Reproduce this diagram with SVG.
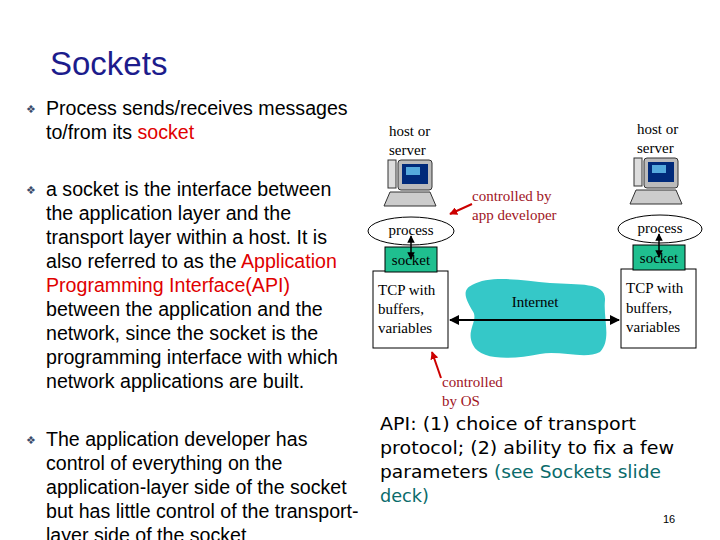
<svg xmlns="http://www.w3.org/2000/svg" width="720" height="540" viewBox="0 0 720 540">
<style>
.b{font-family:"Liberation Sans",Arial,sans-serif;font-size:19.6px;fill:#000}
.s{font-family:"Liberation Serif","Times New Roman",serif;font-size:15px;fill:#000}
.r{font-family:"Liberation Serif","Times New Roman",serif;font-size:15px;fill:#a0141e}
.m{font-family:"DejaVu Sans",sans-serif;font-size:17px;fill:#000}
.red{fill:#e00000}
.bl{fill:#0a6b6b}
.bul{font-family:"DejaVu Sans",sans-serif;font-size:11px;fill:#3a4a6a}
</style>
<defs>
<marker id="a" viewBox="0 0 10 10" refX="9" refY="5" markerWidth="5" markerHeight="5" orient="auto-start-reverse"><path d="M0,0L10,5L0,10z" fill="#000"/></marker>
<marker id="ar" viewBox="0 0 10 10" refX="9" refY="5" markerWidth="4" markerHeight="4" orient="auto"><path d="M0,0L10,5L0,10z" fill="#c00"/></marker>
<g id="pc"><rect x="0" y="0" width="8" height="28" fill="#ddd" stroke="#333"/><rect x="10" y="0" width="34" height="30" rx="3" fill="#bbb" stroke="#333"/><rect x="14" y="4" width="26" height="20" fill="#002a7a"/><rect x="18" y="7" width="14" height="8" fill="#5ad"/><path d="M2,32L42,32L48,46L-4,46z" fill="#ccc" stroke="#333"/></g>
</defs>
<text x="50" y="75" font-family="Liberation Sans,Arial,sans-serif" font-size="33" fill="#1c1c8c">Sockets</text>
<g id="text">
<text x="26" y="113" class="bul">❖</text>
<text class="b"><tspan x="46" y="115">Process sends/receives messages</tspan><tspan x="46" y="139">to/from its <tspan class="red">socket</tspan></tspan></text>
<text x="26" y="194" class="bul">❖</text>
<text class="b"><tspan x="46" y="196">a socket is the interface between</tspan><tspan x="46" y="220">the application layer and the</tspan><tspan x="46" y="244">transport layer within a host. It is</tspan><tspan x="46" y="268">also referred to as the <tspan class="red">Application</tspan></tspan><tspan x="46" y="292" class="red">Programming Interface(API)</tspan><tspan x="46" y="316">between the application and the</tspan><tspan x="46" y="340">network, since the socket is the</tspan><tspan x="46" y="364">programming interface with which</tspan><tspan x="46" y="388">network applications are built.</tspan></text>
<text x="26" y="444" class="bul">❖</text>
<text class="b"><tspan x="46" y="446">The application developer has</tspan><tspan x="46" y="470">control of everything on the</tspan><tspan x="46" y="494">application-layer side of the socket</tspan><tspan x="46" y="518">but has little control of the transport-</tspan><tspan x="46" y="542">layer side of the socket</tspan></text>
</g>
<g id="hostL">
<text class="s"><tspan x="389" y="136">host or</tspan><tspan x="389" y="155">server</tspan></text>
<use href="#pc" x="388" y="160"/>
</g>
<g id="hostR">
<text class="s"><tspan x="637" y="134">host or</tspan><tspan x="637" y="153">server</tspan></text>
<use href="#pc" x="634" y="158"/>
</g>
<g id="procL"><ellipse cx="411" cy="231" rx="43" ry="14" fill="#fff" stroke="#000"/><text x="411" y="235" class="s" text-anchor="middle">process</text></g>
<g id="procR"><ellipse cx="660" cy="229" rx="42" ry="14" fill="#fff" stroke="#000"/><text x="660" y="233" class="s" text-anchor="middle">process</text></g>
<g id="tcpL"><rect x="373" y="271" width="75" height="77" fill="#fff" stroke="#000"/><text class="s"><tspan x="378" y="295">TCP with</tspan><tspan x="378" y="314">buffers,</tspan><tspan x="378" y="333">variables</tspan></text></g>
<g id="tcpR"><rect x="621" y="269" width="75" height="79" fill="#fff" stroke="#000"/><text class="s"><tspan x="626" y="293">TCP with</tspan><tspan x="626" y="313">buffers,</tspan><tspan x="626" y="332">variables</tspan></text></g>
<g id="sockL"><rect x="385" y="247" width="52" height="25" fill="#1fbf8f" stroke="#000"/><text x="411" y="265" class="s" text-anchor="middle">socket</text></g>
<g id="sockR"><rect x="633" y="245" width="52" height="25" fill="#1fbf8f" stroke="#000"/><text x="659" y="263" class="s" text-anchor="middle">socket</text></g>
<g id="internet"><path d="M472,285 C490,275 520,280 550,283 C580,285 606,282 605,300 C603,318 612,340 600,352 C585,360 560,350 540,354 C510,360 480,360 473,345 C465,330 480,320 472,310 C465,298 462,290 472,285z" fill="#35c8c8"/><text x="535" y="307" class="s" text-anchor="middle">Internet</text></g>
<g id="connectors">
<line x1="411" y1="259" x2="411" y2="236" stroke="#000" stroke-width="1.5" marker-end="url(#a)" marker-start="url(#a)"/>
<line x1="659" y1="257" x2="659" y2="234" stroke="#000" stroke-width="1.5" marker-end="url(#a)" marker-start="url(#a)"/>
<line x1="450" y1="320" x2="619" y2="320" stroke="#000" stroke-width="2" marker-end="url(#a)" marker-start="url(#a)"/>
<line x1="472" y1="204" x2="450" y2="214" stroke="#c00" stroke-width="2" marker-end="url(#ar)"/>
<line x1="441" y1="378" x2="432" y2="352" stroke="#c00" stroke-width="2" marker-end="url(#ar)"/>
</g>
<text class="r"><tspan x="472" y="201">controlled by</tspan><tspan x="472" y="220">app developer</tspan></text>
<text class="r"><tspan x="442" y="387">controlled</tspan><tspan x="442" y="406">by OS</tspan></text>
<text class="m"><tspan x="380" y="430" textLength="256" lengthAdjust="spacingAndGlyphs">API: (1) choice of transport</tspan><tspan x="380" y="454" textLength="294" lengthAdjust="spacingAndGlyphs">protocol; (2) ability to fix a few</tspan><tspan x="380" y="478" textLength="281" lengthAdjust="spacingAndGlyphs">parameters <tspan class="bl">(see Sockets slide</tspan></tspan><tspan x="380" y="502" class="bl" textLength="49" lengthAdjust="spacingAndGlyphs">deck)</tspan></text>
<text x="663" y="523" font-family="Liberation Sans,Arial,sans-serif" font-size="11">16</text>
</svg>
